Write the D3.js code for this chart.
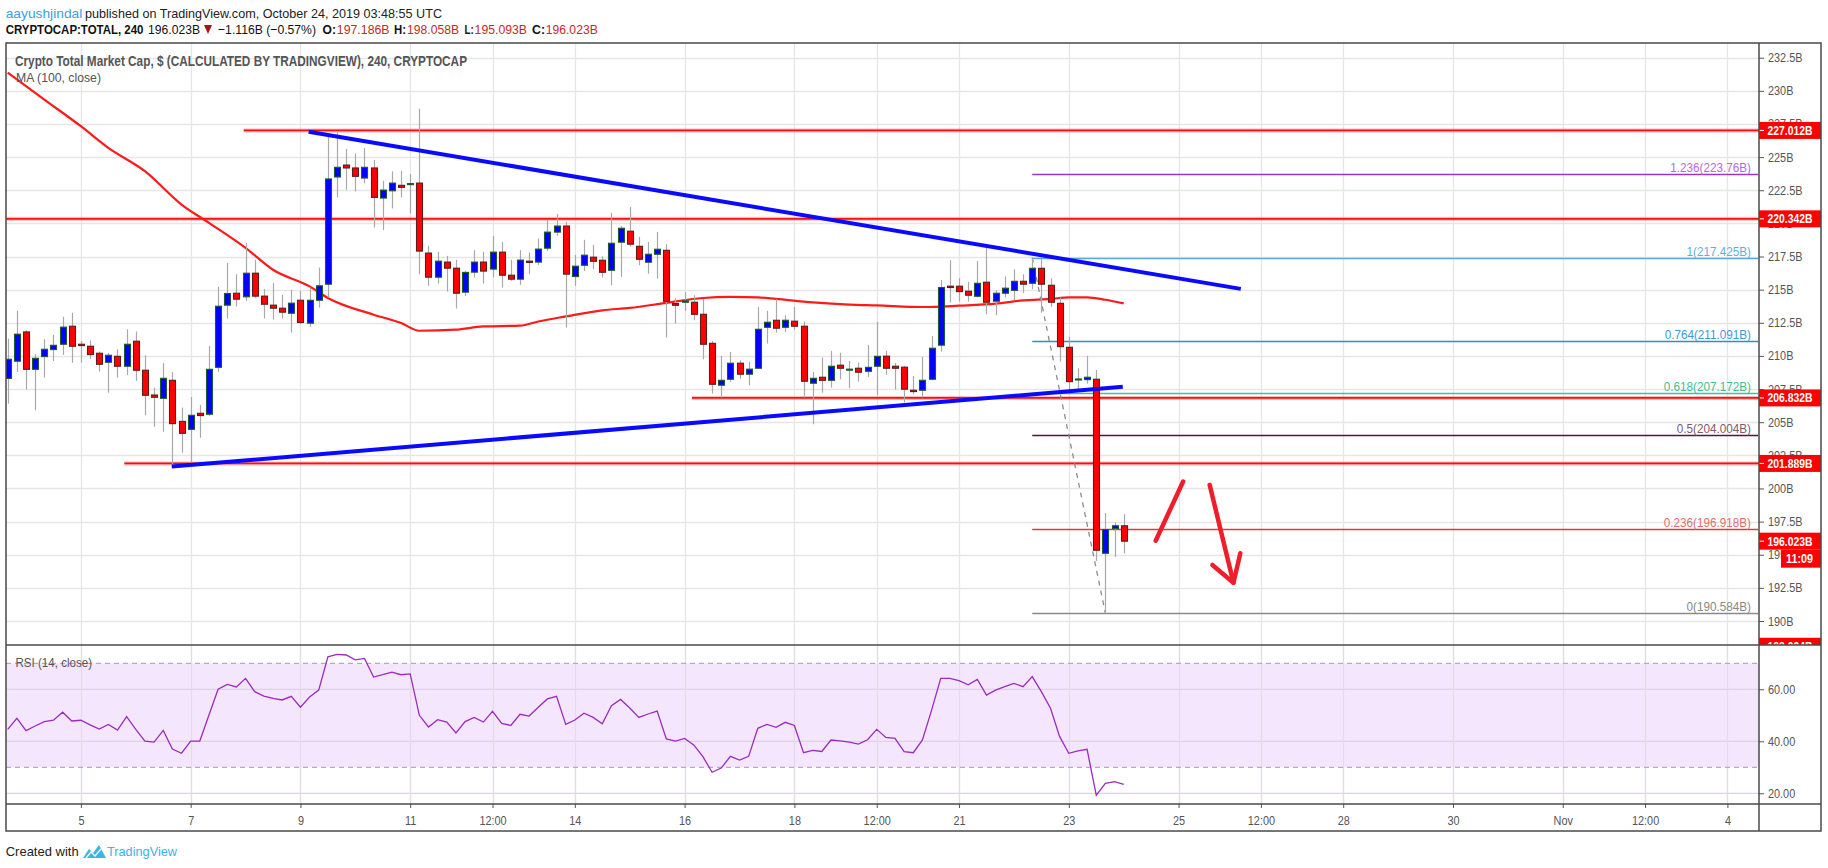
<!DOCTYPE html>
<html><head><meta charset="utf-8">
<script src="https://cdn.jsdelivr.net/npm/d3@7"></script>
<style>
body{margin:0;background:#fff;}
svg{display:block;}
text{font-family:'Liberation Sans',Arial,sans-serif;}
</style>
</head><body>
<svg id="c" width="1828" height="868"></svg>
<script>
// ---------------- DATA ----------------
const firstBarTime = Date.UTC(2019, 9, 3, 16); // Oct 3 16:00 UTC, 4h bars
const barHours = 4;
const open  = [208.3,209.6,211.81,208.99,209.95,210.48,210.88,212.24,210.88,210.73,210.2,209.52,209.97,209.22,211.11,208.92,207.05,206.8,208.16,205.06,204.46,205.67,205.6,209.14,213.83,214.73,214.46,216.24,214.51,213.83,213.6,213.22,214.2,212.47,214.2,215.41,223.5,224.4,224.18,223.42,224.18,221.91,222.46,222.87,222.97,223.04,217.76,215.94,217.08,216.62,214.81,216.32,217.08,216.55,217.83,216.09,215.79,217.15,217.08,218.13,219.34,219.8,215.99,216.84,217.45,217.22,216.46,218.58,219.41,218.27,217.07,217.67,217.97,213.95,214.05,214.05,213.14,210.95,207.79,208.24,209.45,208.62,209.07,212.16,212.69,212.16,212.62,212.24,207.94,208.39,208.16,209.3,208.98,209.07,208.84,209.22,209.98,209.22,209.15,207.41,207.41,208.24,210.81,215.26,215.26,214.88,214.5,215.56,214.13,214.73,214.95,215.63,215.48,216.61,215.33,213.97,210.65,208.22,208.21,208.24,195.11,196.97,197.186];
const high  = [211.3,213.4,211.94,210.13,211.26,211.59,212.95,213.25,211.13,211.18,210.33,210.23,210.5,212.01,211.84,210.05,207.61,209.47,208.79,206.1,206.9,206.3,210.76,215.21,217.02,216.17,218.54,217.25,215.04,215.5,214.6,214.99,214.91,215.16,216.67,226.62,226.87,225.61,225.28,225.69,224.78,223.22,223.92,223.97,223.72,228.65,218.31,217.86,217.55,217.25,216.42,217.98,217.86,219.06,218.61,217.25,217.98,217.81,218.86,220.25,220.7,220.12,217.63,218.76,218.38,217.52,220.79,219.81,221.24,218.98,218.6,219.36,218.43,214.35,214.83,214.58,214.28,211.13,210.0,210.3,209.67,209.55,213.7,213.4,214.28,213.07,213.7,212.59,208.79,209.88,210.38,210.23,209.62,209.5,210.83,212.57,210.38,209.47,209.25,208.49,209.93,211.51,215.73,217.22,215.86,215.58,217.17,218.17,214.95,216.01,216.54,216.16,217.425,217.3,215.86,214.4,211.43,209.07,210.0,208.94,198.15,197.43,198.058];
const low   = [206.4,208.8,207.48,205.9,208.36,209.62,210.08,209.48,209.5,209.75,208.82,207.23,208.36,208.56,208.11,205.52,204.66,204.28,201.69,202.7,201.94,203.83,205.47,208.8,212.82,213.73,214.15,214.36,212.82,212.74,212.82,211.76,212.4,212.19,213.65,214.41,221.96,222.54,222.41,223.02,219.69,219.49,221.13,221.96,220.75,216.17,215.29,215.46,214.86,213.58,214.53,215.92,215.46,215.92,215.16,215.67,215.36,216.17,216.87,217.93,219.06,212.14,215.29,216.42,216.54,215.91,215.33,215.96,218.25,216.84,216.21,215.83,211.38,212.44,213.4,212.69,209.75,207.16,206.86,208.04,208.29,207.79,209.0,210.93,211.76,211.81,211.99,206.86,204.84,207.23,207.61,208.24,207.56,208.06,208.42,207.03,208.57,207.46,206.48,207.11,206.86,208.16,210.33,214.02,214.1,214.1,214.4,213.14,213.07,214.4,214.2,214.73,215.03,213.27,213.72,209.57,207.36,207.41,207.91,194.53,190.584,194.84,195.093];
const close = [209.75,211.64,208.99,209.82,210.5,210.8,212.17,210.73,210.78,210.1,209.37,210.05,209.22,210.88,208.92,207.03,206.88,208.31,204.89,204.16,205.52,205.5,208.99,213.75,214.71,214.28,216.24,214.51,213.9,213.6,213.3,213.98,212.52,214.2,215.29,223.35,224.23,224.18,223.55,224.23,221.96,222.51,223.04,222.72,223.0,217.91,215.94,217.15,216.62,214.73,216.3,217.08,216.4,217.83,216.09,215.79,217.23,217.05,218.06,219.34,219.8,216.17,216.77,217.6,217.14,216.31,218.5,219.63,218.43,217.29,217.67,218.05,214.12,213.82,214.15,213.14,210.88,207.86,208.16,209.45,208.62,209.0,212.01,212.54,212.09,212.69,212.24,208.09,208.31,208.16,209.22,209.07,209.0,208.77,209.14,209.97,209.07,209.07,207.49,207.31,208.16,210.58,215.16,215.16,214.85,214.58,215.48,214.05,214.73,215.11,215.63,215.41,216.61,215.41,214.05,210.7,208.06,208.26,208.39,195.34,196.9,197.186,196.023];
const rsi   = [44.6,48.8,44.1,45.9,47.6,48.1,51.2,47.8,48.1,46.3,44.7,46.5,44.3,49.5,44.6,40.1,39.7,44.2,37.0,35.4,40.1,40.1,50.1,60.0,61.9,60.9,64.2,59.1,57.4,56.5,55.9,57.3,53.1,57.0,59.7,72.5,73.4,73.2,71.3,71.9,64.7,65.6,66.6,65.6,65.9,50.0,45.5,48.3,47.4,43.2,47.6,49.2,47.4,51.5,46.9,46.1,50.4,49.7,53.1,56.3,57.3,46.5,48.2,50.8,49.2,46.7,53.7,56.1,52.8,49.2,50.5,51.6,40.9,40.1,41.1,38.6,34.1,28.1,29.7,34.2,32.8,34.2,45.0,46.5,45.4,47.3,46.1,35.6,36.5,36.1,40.5,40.2,39.7,38.9,40.6,44.6,41.5,41.1,36.0,35.6,40.5,52.0,64.2,64.2,63.3,61.7,63.8,57.8,59.7,61.0,62.3,61.0,64.9,59.1,52.7,41.8,35.4,36.3,36.9,19.3,23.8,24.5,23.4];
const maBars   = [0,4,8,11,15,19,22,26,29,33,35,40,43,45,49,52,56,58,61,65,68,72,76,79,82,84,88,92,95,100,104,108,111,114,116,118,120,122];
const maValues = [231.37,229.34,227.33,225.7,223.94,221.42,220.04,218.15,216.5,215.25,214.37,213.11,212.48,211.9,211.98,212.23,212.28,212.6,212.98,213.44,213.62,214.0,214.37,214.45,214.42,214.3,214.04,213.87,213.81,213.69,213.79,213.94,214.19,214.3,214.42,214.42,214.24,213.96];

const priceTicks = [190,192.5,195,197.5,200,202.5,205,207.5,210,212.5,215,217.5,220,222.5,225,227.5,230,232.5];
const rsiTicks = [20,40,60];
const timeTickDates = [[2019,9,5,0],[2019,9,7,0],[2019,9,9,0],[2019,9,11,0],[2019,9,12,12],[2019,9,14,0],[2019,9,16,0],[2019,9,18,0],[2019,9,19,12],[2019,9,21,0],[2019,9,23,0],[2019,9,25,0],[2019,9,26,12],[2019,9,28,0],[2019,9,30,0],[2019,10,1,0],[2019,10,2,12],[2019,10,4,0]];
const timeTickLabels = ["5","7","9","11","12:00","14","16","18","12:00","21","23","25","12:00","28","30","Nov","12:00","4"];

// horizontal support / resistance levels (price, starting bar)
const levelPrices = [227.012, 220.342, 206.832, 201.889];
const levelStartBar = [25.8, -2, 74.8, 12.75];
// trend lines [bar, price]
const upperTrend = [[32.9, 226.91],[134.8, 215.06]];
const lowerTrend = [[17.93, 201.65],[121.9, 207.67]];
// fibonacci retracement
const fibHigh = {bar:112, price:217.425};
const fibLow  = {bar:120, price:190.584};
const fibRatios = [1.236, 1, 0.764, 0.618, 0.5, 0.236, 0];
const fibLabels = ["1.236(223.76B)","1(217.425B)","0.764(211.091B)","0.618(207.172B)","0.5(204.004B)","0.236(196.918B)","0(190.584B)"];
const fibLineColors = ["#9a35c8","#62a7d8","#2b8fd1","#34c89b","#4b1a38","#e53935","#8a8a8a"];
const fibTextColors = ["#b36ad8","#5fb0e0","#3b9ad8","#3cc08f","#7d5a6c","#e26d6d","#888888"];
// hand drawn arrows [bar, price]
const arrowUp = [[125.5,196.06],[128.5,200.52]];
const arrowDown = [[131.4,200.27],[134,192.89]];
const arrowHead = [[131.7,194.23],[134,192.89],[134.75,195.11]];
// right-axis price labels
const axisLabels = [227.012, 220.342, 206.832, 201.889, 196.023, 188.094];
const countdown = "11:09";

// ---------------- LAYOUT ----------------
const L = 6, R = 1759, RA = 1821;
const mainTop = 43, mainBot = 645, rsiTop = 645, rsiBot = 804, axBot = 831;

const svg = d3.select('#c');
const x = d3.scaleUtc().domain([new Date(Date.UTC(2019,9,5)), new Date(Date.UTC(2019,10,4))]).range([80.9, 1727.4]);
const y = d3.scaleLinear().domain([190, 232.5]).range([621, 57.7]);
const yr = d3.scaleLinear().domain([20, 70]).range([793.3, 663.3]);
const barDate = i => new Date(firstBarTime + i * barHours * 3600e3);
const bx = i => x(barDate(i));
const N = close.length;
const tickDates = timeTickDates.map(a => new Date(Date.UTC(a[0],a[1],a[2],a[3])));

// text helpers: emulate the narrow face of the original
function narrow(sel, f) {
  sel.each(function(){ const l = this.getComputedTextLength(); d3.select(this).attr('textLength', l*f).attr('lengthAdjust','spacingAndGlyphs'); });
  return sel;
}
function fit(sel, w) { return sel.attr('textLength', w).attr('lengthAdjust','spacingAndGlyphs'); }
function txt(xp, yp, s, size, fill, w, bold) {
  const t = svg.append('text').attr('x',xp).attr('y',yp).attr('font-size',size).attr('fill',fill).text(s);
  if (bold) t.attr('font-weight','bold');
  if (w) fit(t, w);
  return t;
}

const defs = svg.append('defs');
defs.append('clipPath').attr('id','mainClip').append('rect').attr('x',L).attr('y',mainTop).attr('width',R-L).attr('height',mainBot-mainTop);
defs.append('clipPath').attr('id','rsiClip').append('rect').attr('x',L).attr('y',rsiTop).attr('width',R-L).attr('height',rsiBot-rsiTop);
defs.append('clipPath').attr('id','axClip').append('rect').attr('x',R).attr('y',mainTop).attr('width',RA-R).attr('height',mainBot-mainTop);

// ---------------- HEADER ----------------
txt(5.7, 18, 'aayushjindal', 13.5, '#3aa2e0', 76.6);
txt(85, 18, 'published on TradingView.com, October 24, 2019 03:48:55 UTC', 13.5, '#222', 357);
txt(5.7, 34, 'CRYPTOCAP:TOTAL, 240', 13.5, '#111', 137.8, true);
txt(148, 34, '196.023B', 13.5, '#111', 52);
svg.append('path').attr('d','M204,25 L212,25 L208,34 Z').attr('fill','#a51515');
txt(218, 34, '−1.116B (−0.57%)', 13.5, '#111', 98);
const ohlc = [['O:',322.6,13.4,'197.186B',336.8,52.8],['H:',394,12,'198.058B',407,52],['L:',464.6,9.2,'195.093B',474.6,52.4],['C:',532,13,'196.023B',545.7,52.1]];
ohlc.forEach(o => {
  txt(o[1], 34, o[0], 13.5, '#111', o[2], true);
  txt(o[4], 34, o[3], 13.5, '#c62828', o[5]);
});

// ---------------- GRID ----------------
const grid = svg.append('g');
grid.selectAll('line.hg').data(priceTicks).join('line')
  .attr('x1',L).attr('x2',R).attr('y1',d=>Math.round(y(d))+0.5).attr('y2',d=>Math.round(y(d))+0.5)
  .attr('stroke','#e6e6e6').attr('stroke-width',1.3);
grid.selectAll('line.vg').data(tickDates).join('line')
  .attr('x1',d=>Math.round(x(d))+0.5).attr('x2',d=>Math.round(x(d))+0.5).attr('y1',mainTop).attr('y2',rsiBot)
  .attr('stroke','#e6e6e6').attr('stroke-width',1.3);

// ---------------- RSI PANE ----------------
const rg = svg.append('g').attr('clip-path','url(#rsiClip)');
rg.append('rect').attr('x',L).attr('width',R-L).attr('y',yr(70)).attr('height',yr(30)-yr(70)).attr('fill','#f3e6fd');
rg.selectAll('line.rgl').data(rsiTicks).join('line')
  .attr('x1',L).attr('x2',R).attr('y1',d=>yr(d)).attr('y2',d=>yr(d)).attr('stroke','#ddd3e6').attr('stroke-width',1.3);
rg.selectAll('line.rgv').data(tickDates).join('line')
  .attr('x1',d=>Math.round(x(d))+0.5).attr('x2',d=>Math.round(x(d))+0.5).attr('y1',rsiTop).attr('y2',rsiBot)
  .attr('stroke','#e3dbe8').attr('stroke-width',1.2);
rg.selectAll('line.rb').data([70,30]).join('line')
  .attr('x1',L).attr('x2',R).attr('y1',d=>yr(d)).attr('y2',d=>yr(d))
  .attr('stroke','#bca6c6').attr('stroke-width',1.2).attr('stroke-dasharray','5,4');
rg.append('path').datum(rsi)
  .attr('d', d3.line().x((d,i)=>bx(i)).y(d=>yr(d)))
  .attr('fill','none').attr('stroke','#9b2cbd').attr('stroke-width',1.3);
txt(15.5, 667, 'RSI (14, close)', 13, '#555', 76.5);

// ---------------- MAIN PANE ----------------
const mg = svg.append('g').attr('clip-path','url(#mainClip)');
mg.append('path').datum(maBars.map((b,i)=>[b,maValues[i]]))
  .attr('d', d3.line().x(d=>bx(d[0])).y(d=>y(d[1])).curve(d3.curveMonotoneX))
  .attr('fill','none').attr('stroke','#ff1a1a').attr('stroke-width',2.2);
levelPrices.forEach((p,i) => {
  const x1 = bx(levelStartBar[i]);
  mg.append('line').attr('x1',x1).attr('x2',R).attr('y1',y(p)).attr('y2',y(p)).attr('stroke','rgba(255,60,60,0.35)').attr('stroke-width',4);
  mg.append('line').attr('x1',x1).attr('x2',R).attr('y1',y(p)).attr('y2',y(p)).attr('stroke','#ff1010').attr('stroke-width',1.8);
});
fibRatios.forEach((r,i) => {
  const p = fibLow.price + r*(fibHigh.price - fibLow.price);
  const yy = Math.round(y(p))+0.5;
  mg.append('line').attr('x1',bx(fibHigh.bar)).attr('x2',R-1).attr('y1',yy).attr('y2',yy).attr('stroke',fibLineColors[i]).attr('stroke-width',1.4);
  const t = mg.append('text').attr('x',1751).attr('y',yy-3).attr('text-anchor','end').attr('font-size',13).attr('fill',fibTextColors[i]).text(fibLabels[i]);
  narrow(t, 0.9);
});
mg.append('line').attr('x1',bx(fibHigh.bar)).attr('y1',y(fibHigh.price)).attr('x2',bx(fibLow.bar)).attr('y2',y(fibLow.price))
  .attr('stroke','#8c8c8c').attr('stroke-width',1.3).attr('stroke-dasharray','5,5');
const candleW = 6;
mg.selectAll('line.wick').data(d3.range(N)).join('line')
  .attr('x1',i=>Math.round(bx(i))+0.5).attr('x2',i=>Math.round(bx(i))+0.5)
  .attr('y1',i=>y(high[i])).attr('y2',i=>y(low[i]))
  .attr('stroke','#a9a9a9').attr('stroke-width',1.2);
mg.selectAll('rect.body').data(d3.range(N)).join('rect')
  .attr('x',i=>Math.round(bx(i)) - candleW/2 + 0.5).attr('width',candleW)
  .attr('y',i=>y(Math.max(open[i],close[i])))
  .attr('height',i=>Math.max(1,Math.abs(y(open[i])-y(close[i]))))
  .attr('fill',i=>close[i]>=open[i]?'#0000ff':'#ff0000')
  .attr('stroke',i=>close[i]>=open[i]?'#1f5a2c':'#5c1d1d').attr('stroke-width',1.1);
[upperTrend, lowerTrend].forEach(t => {
  mg.append('line').attr('x1',bx(t[0][0])).attr('y1',y(t[0][1])).attr('x2',bx(t[1][0])).attr('y2',y(t[1][1]))
    .attr('stroke','#0a0aff').attr('stroke-width',4);
});
const aline = d3.line().x(d=>bx(d[0])).y(d=>y(d[1]));
[arrowUp, arrowDown, arrowHead].forEach(a => {
  mg.append('path').attr('d',aline(a)).attr('fill','none').attr('stroke','#ee1f2b').attr('stroke-width',4.5)
    .attr('stroke-linecap','round').attr('stroke-linejoin','round');
});
txt(15, 66, 'Crypto Total Market Cap, $ (CALCULATED BY TRADINGVIEW), 240, CRYPTOCAP', 14, '#555', 452, true);
txt(16, 82, 'MA (100, close)', 13.5, '#555', 85);

// ---------------- AXES ----------------
function styleAxis(g) {
  g.select('.domain').remove();
  g.selectAll('text').attr('font-size',12.5).attr('fill','#555').style('font-family',"'Liberation Sans',Arial,sans-serif");
  g.selectAll('line').attr('stroke','#555');
  narrow(g.selectAll('text'), 0.87);
}
const yAxis = svg.append('g').attr('transform',`translate(${R},0)`)
  .call(d3.axisRight(y).tickValues(priceTicks).tickSize(5).tickPadding(4).tickFormat(d=>d+'B'));
styleAxis(yAxis);
const rAxis = svg.append('g').attr('transform',`translate(${R},0)`)
  .call(d3.axisRight(yr).tickValues(rsiTicks).tickSize(5).tickPadding(4).tickFormat(d=>d.toFixed(2)));
styleAxis(rAxis);
const xAxis = svg.append('g').attr('transform',`translate(0,${rsiBot})`)
  .call(d3.axisBottom(x).tickValues(tickDates).tickSize(4).tickPadding(8).tickFormat((d,i)=>timeTickLabels[i]));
styleAxis(xAxis);

// price labels on axis
const pl = svg.append('g').attr('clip-path','url(#axClip)');
axisLabels.forEach(p => {
  const yy = y(p);
  pl.append('rect').attr('x',R).attr('y',yy-8.5).attr('width',RA-R).attr('height',17).attr('fill','#ff0000');
  pl.append('line').attr('x1',R).attr('x2',R+5).attr('y1',yy).attr('y2',yy).attr('stroke','#fff').attr('stroke-width',1);
  pl.append('text').attr('x',R+8.5).attr('y',yy+4.5).attr('font-size',12.5).attr('font-weight','bold').attr('fill','#fff')
    .attr('textLength',45).attr('lengthAdjust','spacingAndGlyphs').text(p.toFixed(3)+'B');
});
const cy = y(axisLabels[4]) + 8.5;
pl.append('rect').attr('x',1781).attr('y',cy).attr('width',RA-1781).attr('height',18).attr('fill','#ff0000');
pl.append('text').attr('x',1786).attr('y',cy+13.5).attr('font-size',12.5).attr('font-weight','bold').attr('fill','#fff')
  .attr('textLength',27).attr('lengthAdjust','spacingAndGlyphs').text(countdown);

// ---------------- BORDERS ----------------
const bc = '#4a4a4a';
svg.append('rect').attr('x',L).attr('y',mainTop).attr('width',RA-L).attr('height',axBot-mainTop).attr('fill','none').attr('stroke',bc).attr('stroke-width',1.5);
svg.append('line').attr('x1',R).attr('x2',R).attr('y1',mainTop).attr('y2',axBot).attr('stroke',bc).attr('stroke-width',1.5);
svg.append('line').attr('x1',L).attr('x2',RA).attr('y1',mainBot).attr('y2',mainBot).attr('stroke',bc).attr('stroke-width',1.5);
svg.append('line').attr('x1',L).attr('x2',RA).attr('y1',rsiBot).attr('y2',rsiBot).attr('stroke',bc).attr('stroke-width',1.5);

// ---------------- FOOTER ----------------
txt(5.7, 856, 'Created with', 13.5, '#222', 73);
svg.append('path').attr('d','M83,858 L89,849 L93,853 L99,845 L106,858 Z').attr('fill','#3cb4e6');
svg.append('path').attr('d','M86,858 L91,852 L95,856 L101,849').attr('fill','none').attr('stroke','#fff').attr('stroke-width',1.2);
txt(107, 856, 'TradingView', 13.5, '#3cb4e6', 70);
</script>
</body></html>
